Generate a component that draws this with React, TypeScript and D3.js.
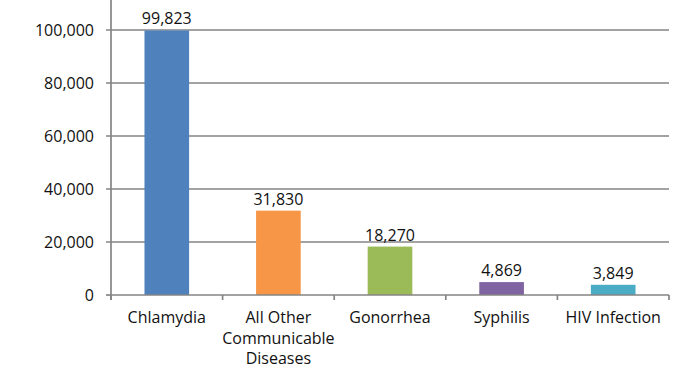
import { useMemo } from 'react';
import * as d3 from 'd3';

const width = 694;
const height = 368;
const margin = { top: 30, right: 25, bottom: 73, left: 111 };

// Cases by disease
const categories = ['Chlamydia', 'All Other Communicable Diseases', 'Gonorrhea', 'Syphilis', 'HIV Infection'];
const caseCounts = [99823, 31830, 18270, 4869, 3849];
const categoryLabels = [['Chlamydia'], ['All Other', 'Communicable', 'Diseases'], ['Gonorrhea'], ['Syphilis'], ['HIV Infection']];
const yTicks = [0, 20000, 40000, 60000, 80000, 100000];
const barColors = ['#4F81BD', '#F79646', '#9BBB59', '#8064A2', '#4BACC6'];

const font = '"Open Sans", "Liberation Sans", sans-serif';
const textColor = '#111';
const gridColor = '#858585';

const BarChart = () => {
  const boundsWidth = width - margin.left - margin.right;
  const boundsHeight = height - margin.top - margin.bottom;

  const xScale = useMemo(() => d3.scaleBand<string>().domain(categories).range([0, boundsWidth]).padding(0), [boundsWidth]);
  const yScale = useMemo(() => d3.scaleLinear().domain([0, 100000]).range([boundsHeight, 0]), [boundsHeight]);
  const fmt = d3.format(',');

  const barWidth = xScale.bandwidth() * 0.4;
  const step = xScale.step();

  return (
    <svg width={width} height={height} style={{ position: 'absolute', left: 0, top: 0, background: '#fff' }}>
      <g transform={`translate(${margin.left},${margin.top})`} fontFamily={font} fontSize={16} fill={textColor}>
        {/* grid lines */}
        {yTicks.map((t) => (
          <g key={t}>
            <line x1={-5} x2={t === 0 ? 0 : boundsWidth} y1={yScale(t)} y2={yScale(t)} stroke={gridColor} strokeWidth={1.7} />
            <text x={-17} y={yScale(t)} dy="0.36em" textAnchor="end">
              {fmt(t)}
            </text>
          </g>
        ))}
        {/* bars */}
        {categories.map((c, i) => {
          const cx = (xScale(c) ?? 0) + xScale.bandwidth() / 2;
          const y = yScale(caseCounts[i]);
          return (
            <g key={c}>
              <rect x={cx - barWidth / 2} y={y} width={barWidth} height={boundsHeight - y} fill={barColors[i]} />
              <text x={cx} y={y - 6} textAnchor="middle">
                {fmt(caseCounts[i])}
              </text>
              {categoryLabels[i].map((line, j) => (
                <text key={j} x={cx} y={boundsHeight + 28 + j * 20.5} textAnchor="middle">
                  {line}
                </text>
              ))}
            </g>
          );
        })}
        {/* axes */}
        <line x1={0} x2={0} y1={-30} y2={boundsHeight + 5} stroke={gridColor} strokeWidth={1.7} />
        <line x1={0} x2={boundsWidth} y1={boundsHeight} y2={boundsHeight} stroke={gridColor} strokeWidth={1.7} />
        {d3.range(categories.length + 1).map((k) => (
          <line key={k} x1={k * step} x2={k * step} y1={boundsHeight} y2={boundsHeight + 5} stroke={gridColor} strokeWidth={1.7} />
        ))}
      </g>
    </svg>
  );
};

export default function App() {
  return <BarChart />;
}
